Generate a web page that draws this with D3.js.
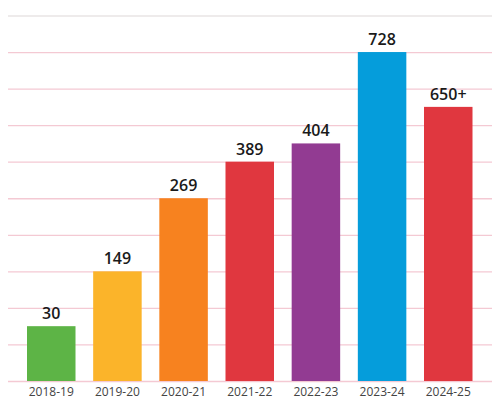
<!DOCTYPE html>
<html>
<head>
<meta charset="utf-8">
<script src="https://cdn.jsdelivr.net/npm/d3@7"></script>
<style>
  body { margin: 0; background: #fff; }
  svg { display: block; }
</style>
</head>
<body>
<div id="chart"></div>
<script>
// years on the x axis
const years = ["2018-19", "2019-20", "2020-21", "2021-22", "2022-23", "2023-24", "2024-25"];
// printed numbers over the bars
const labels = ["30", "149", "269", "389", "404", "728", "650+"];
// bar heights (the picture is not drawn to scale)
const levels = [1.5, 3, 5, 6, 6.5, 9, 7.5];
const colors = ["#5db446", "#fbb42a", "#f7821f", "#e0373f", "#923b92", "#059ddb", "#e0373f"];
// gridline levels
const gridTicks = [0, 1, 2, 3, 4, 5, 6, 7, 8, 9, 10];

var width = 500,
    height = 402;

var svg = d3.select("#chart")
            .append("svg")
            .attr("width", width)
            .attr("height", height);

var x = d3.scaleBand()
          .domain(years)
          .range([18.2, 481.3])
          .paddingInner(0.267)
          .paddingOuter(0.133);

var y = d3.scaleLinear()
          .domain([0, 10])
          .range([381, 15.5]);

// gridlines, drawn from the right edge back to x=8
var yAxis = d3.axisLeft(y)
              .tickValues(gridTicks)
              .tickSize(484)
              .tickFormat("");

var gy = svg.append("g")
            .attr("transform", "translate(492,0)")
            .call(yAxis);
gy.select(".domain").remove();
gy.selectAll(".tick line")
  .attr("stroke", d => d == 10 ? "#e9e4e4" : "#f4c9d3")
  .attr("stroke-width", 1.3);

// bars
svg.append("g")
   .selectAll("rect")
   .data(years)
   .join("rect")
   .attr("x", d => x(d))
   .attr("y", (d, i) => y(levels[i]))
   .attr("width", x.bandwidth())
   .attr("height", (d, i) => y(0) - y(levels[i]))
   .attr("fill", (d, i) => colors[i]);

// value labels
svg.append("g")
   .selectAll("text")
   .data(years)
   .join("text")
   .attr("x", d => x(d) + x.bandwidth() / 2)
   .attr("y", (d, i) => y(levels[i]) - 7)
   .attr("text-anchor", "middle")
   .style("font-family", "'Open Sans', sans-serif")
   .style("font-weight", 600)
   .style("font-size", "16px")
   .attr("fill", "#1a1a1a")
   .text((d, i) => labels[i]);

// x axis
var xAxis = d3.axisBottom(x).tickSize(0).tickPadding(6);
var gx = svg.append("g")
            .attr("transform", "translate(0,381)")
            .call(xAxis);
gx.select(".domain").remove();
gx.selectAll("text")
  .style("font-family", "'Open Sans', sans-serif")
  .style("font-size", "12px")
  .attr("fill", "#444");
</script>
</body>
</html>
